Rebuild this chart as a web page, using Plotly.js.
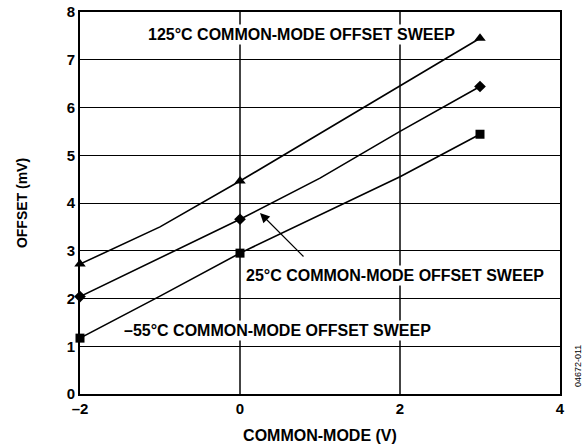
<!DOCTYPE html>
<html>
<head>
<meta charset="utf-8">
<script src="https://cdn.plot.ly/plotly-3.0.1.min.js"></script>
<style>html,body{margin:0;padding:0;background:#fff;}#chart{width:588px;height:448px;}</style>
</head>
<body>
<div id="chart"></div>
<script>
// Common-mode voltage (V)
const commonMode = [-2, -1, 0, 1, 2, 3];
// Offset (mV) for each temperature
const offset125C = [2.72, 3.50, 4.46, 5.46, 6.46, 7.45];
const offset25C = [2.04, 2.85, 3.66, 4.52, 5.50, 6.44];
const offsetMinus55C = [1.17, 2.05, 2.95, 3.75, 4.55, 5.44];
// Points where markers are drawn
const markerAt = [-2, 0, 3];

const xTickVals = [-2, 0, 2, 4];
const xTickText = ['\u20132', '0', '2', '4'];
const yTickVals = [0, 1, 2, 3, 4, 5, 6, 7, 8];

const font = 'Liberation Sans, Arial, Helvetica, sans-serif';

function lineTrace(y) {
  return {x: commonMode, y: y, mode: 'lines', type: 'scatter',
    line: {color: '#000', width: 1.6}, hoverinfo: 'skip', showlegend: false};
}
function markerTrace(y, symbol, size) {
  const mx = [], my = [];
  commonMode.forEach((v, i) => { if (markerAt.includes(v)) { mx.push(v); my.push(y[i]); } });
  return {x: mx, y: my, mode: 'markers', type: 'scatter',
    marker: {color: '#000', symbol: symbol, size: size}, hoverinfo: 'skip', showlegend: false, cliponaxis: false};
}

const data = [
  lineTrace(offset125C), lineTrace(offset25C), lineTrace(offsetMinus55C),
  markerTrace(offset125C, 'triangle-up', 10),
  markerTrace(offset25C, 'diamond', 9),
  markerTrace(offsetMinus55C, 'square', 9)
];

const annFont = {family: font, size: 16, color: '#000', weight: 'bold'};
const layout = {
  width: 588, height: 448,
  margin: {l: 80, r: 28, t: 12, b: 54},
  paper_bgcolor: '#fff', plot_bgcolor: '#fff',
  font: {family: font, color: '#000'},
  xaxis: {
    range: [-2, 4], tickvals: xTickVals, ticktext: xTickText,
    showgrid: true, gridcolor: '#444', gridwidth: 1.5,
    zeroline: false, showline: true, linecolor: '#000', linewidth: 2, mirror: true,
    ticks: '', tickfont: {family: font, size: 15, weight: 'bold'},
    title: {text: 'COMMON-MODE (V)', font: {family: font, size: 16, weight: 'bold'}, standoff: 14}
  },
  yaxis: {
    range: [0, 8], tickvals: yTickVals,
    showgrid: true, gridcolor: '#000', gridwidth: 1,
    zeroline: false, showline: true, linecolor: '#000', linewidth: 2, mirror: true,
    ticks: '', tickfont: {family: font, size: 15, weight: 'bold'},
    title: {text: 'OFFSET (mV)', font: {family: font, size: 14, weight: 'bold'}, standoff: 36}
  },
  annotations: [
    {x: 0.77, y: 7.52, xref: 'x', yref: 'y', text: '125°C COMMON-MODE OFFSET SWEEP',
      showarrow: false, font: annFont, bgcolor: '#fff'},
    {x: 1.94, y: 2.49, xref: 'x', yref: 'y', text: '25°C COMMON-MODE OFFSET SWEEP',
      showarrow: false, font: annFont, bgcolor: '#fff'},
    {x: 0.47, y: 1.34, xref: 'x', yref: 'y', text: '\u201355°C COMMON-MODE OFFSET SWEEP',
      showarrow: false, font: annFont, bgcolor: '#fff'},
    {x: 0.25, y: 3.79, xref: 'x', yref: 'y', text: '', showarrow: true,
      ax: 45, ay: 45, arrowhead: 2, arrowsize: 1.6, arrowwidth: 1.2, arrowcolor: '#000', standoff: 0},
    {x: 578, y: 366, xref: 'paper', yref: 'paper', text: '04672-011', showarrow: false,
      textangle: -90, font: {family: font, size: 9, color: '#000'}}
  ]
};
// place watermark in pixel terms converted to paper coords
const plotW = 588 - 80 - 28, plotH = 448 - 12 - 54;
layout.annotations[4].x = (578 - 80) / plotW;
layout.annotations[4].y = (448 - 54 - 366) / plotH;
layout.annotations[4].xanchor = 'center';
layout.annotations[4].yanchor = 'middle';

Plotly.newPlot('chart', data, layout, {staticPlot: true, displayModeBar: false});
</script>
</body>
</html>
